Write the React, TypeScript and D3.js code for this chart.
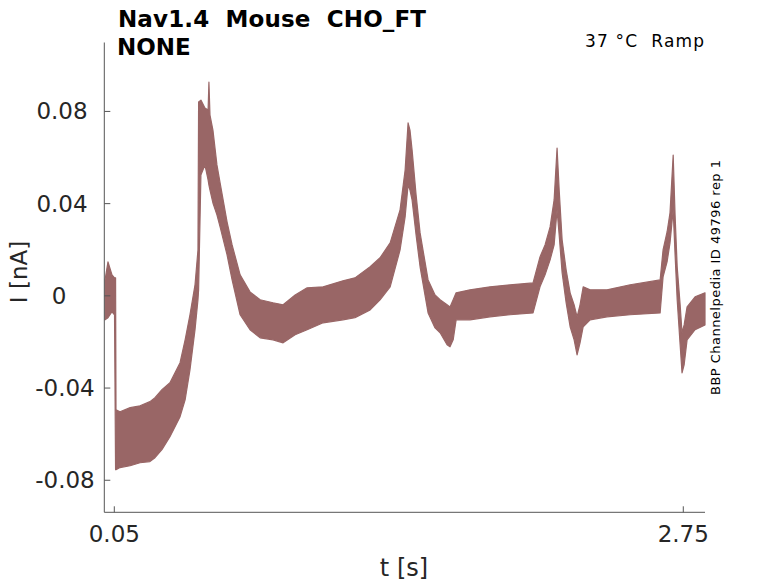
import * as d3 from "d3";
import React from "react";

const WIDTH = 778;
const HEIGHT = 583;
// plot box (inner axes area)
const BOX = { left: 104.3, right: 705, top: 42.5, bottom: 512.3 };

const timeS = [
    0.006, 0.02, 0.039, 0.051, 0.056, 0.058, 0.077, 0.125, 0.172, 0.219,
    0.243, 0.276, 0.314, 0.362, 0.386, 0.409, 0.433, 0.447, 0.45, 0.461,
    0.48, 0.495, 0.499, 0.504, 0.518, 0.537, 0.552, 0.585, 0.609, 0.647,
    0.694, 0.742, 0.803, 0.851, 0.908, 0.965, 1.041, 1.135, 1.192, 1.264,
    1.311, 1.359, 1.406, 1.43, 1.444, 1.453, 1.463, 1.482, 1.501, 1.539,
    1.572, 1.596, 1.629, 1.643, 1.658, 1.672, 1.738, 1.833, 1.928, 2.037,
    2.07, 2.094, 2.118, 2.137, 2.151, 2.161, 2.175, 2.194, 2.213, 2.232,
    2.246, 2.26, 2.275, 2.308, 2.388, 2.498, 2.64, 2.654, 2.673, 2.687,
    2.702, 2.711, 2.721, 2.735, 2.744, 2.754, 2.768, 2.806, 2.853,
];
const upperNA = [
    0.0069, 0.0147, 0.0091, 0.0078, 0.0078, -0.0494, -0.0503, -0.0485, -0.0477, -0.0459,
    -0.0442, -0.0407, -0.0377, -0.029, -0.0191, -0.0082, 0.0048, 0.0199, 0.0841, 0.0849,
    0.0815, 0.0806, 0.0927, 0.0784, 0.0719, 0.0568, 0.049, 0.0321, 0.0221, 0.0091,
    0.0017, -0.0017, -0.003, -0.0039, 0.0004, 0.0035, 0.0039, 0.0065, 0.0078, 0.0126,
    0.0165, 0.023, 0.0373, 0.0546, 0.075, 0.0719, 0.0633, 0.0438, 0.0273, 0.0069,
    0.0004, -0.0017, -0.0039, -0.0048, -0.0017, 0.0013, 0.0026, 0.0039, 0.0048, 0.0056,
    0.0169, 0.0221, 0.0299, 0.0416, 0.0641, 0.0459, 0.0243, 0.0113, 0.0013, -0.0039,
    -0.0091, -0.0039, 0.0039, 0.0026, 0.0026, 0.0048, 0.0069, 0.0199, 0.0277, 0.036,
    0.0611, 0.0351, 0.0126, -0.0039, -0.016, -0.0126, -0.0048, -0.0004, 0.0013,
];
const lowerNA = [
    -0.0104, -0.0095, -0.0069, -0.0082, -0.0754, -0.0754, -0.0745, -0.0737, -0.0724, -0.0719,
    -0.0702, -0.0667, -0.0611, -0.0524, -0.0451, -0.0321, -0.0147, -0.0017, 0.0026, 0.0524,
    0.0568, 0.0503, 0.048, 0.0459, 0.0403, 0.0351, 0.0299, 0.0178, 0.0069, -0.0082,
    -0.0147, -0.0182, -0.0191, -0.0204, -0.0169, -0.0147, -0.0117, -0.0104, -0.0095, -0.0061,
    -0.0017, 0.0039, 0.0199, 0.0342, 0.0481, 0.0459, 0.0416, 0.0264, 0.0126, -0.0074,
    -0.0139, -0.016, -0.0212, -0.0221, -0.0191, -0.0104, -0.0104, -0.0091, -0.0082, -0.0074,
    0.0039, 0.0091, 0.0156, 0.0221, 0.0373, 0.0264, 0.01, -0.003, -0.0134, -0.0191,
    -0.0256, -0.0204, -0.0134, -0.0104, -0.0091, -0.0082, -0.0074, 0.0082, 0.0147, 0.023,
    0.0373, 0.0178, -0.0017, -0.0212, -0.0334, -0.0299, -0.0191, -0.0147, -0.0126,
];

const xTicks = [0.05, 2.75];
const xTickLabels = ["0.05", "2.75"];
const yTicks = [0.08, 0.04, 0, -0.04, -0.08];
const yTickLabels = ["0.08", "0.04", "0", "-0.04", "-0.08"];

const TRACE = "#996666";
const AXIS = "#555555";
const TEXT = "#262626";
const FONT = "DejaVu Sans, sans-serif";

type Sample = { t: number; hi: number; lo: number };

const App: React.FC = () => {
    const samples: Sample[] = timeS.map((t, i) => ({
        t,
        hi: upperNA[i],
        lo: lowerNA[i],
    }));

    const xScale = d3
        .scaleLinear()
        .domain([0.0025, 2.853])
        .range([BOX.left, BOX.right]);
    const yScale = d3
        .scaleLinear()
        .domain([-0.0939, 0.1099])
        .range([BOX.bottom, BOX.top]);

    const areaBuilder = d3
        .area<Sample>()
        .x((d) => xScale(d.t))
        .y0((d) => yScale(d.lo))
        .y1((d) => yScale(d.hi));
    const bandPath = areaBuilder(samples) || "";

    return (
        <svg
            width={WIDTH}
            height={HEIGHT}
            style={{ position: "absolute", left: 0, top: 0, background: "#fff" }}
            fontFamily={FONT}
        >
            <path
                d={bandPath}
                fill={TRACE}
                stroke={TRACE}
                strokeWidth={1.2}
                strokeLinejoin="round"
            />

            {/* axes */}
            <line x1={BOX.left} x2={BOX.left} y1={BOX.top} y2={BOX.bottom} stroke={AXIS} />
            <line x1={BOX.left} x2={BOX.right} y1={BOX.bottom} y2={BOX.bottom} stroke={AXIS} />
            {yTicks.map((v, i) => (
                <g key={"y" + i}>
                    <line
                        x1={BOX.left}
                        x2={BOX.left + 6}
                        y1={yScale(v)}
                        y2={yScale(v)}
                        stroke={AXIS}
                    />
                    <text
                        x={v < 0 ? 65 : v === 0 ? 59 : 62}
                        y={yScale(v) + 8}
                        textAnchor="middle"
                        fontSize={23}
                        fill={TEXT}
                    >
                        {yTickLabels[i]}
                    </text>
                </g>
            ))}
            {xTicks.map((v, i) => (
                <g key={"x" + i}>
                    <line
                        x1={xScale(v)}
                        x2={xScale(v)}
                        y1={BOX.bottom}
                        y2={BOX.bottom - 6}
                        stroke={AXIS}
                    />
                    <text
                        x={xScale(v)}
                        y={542}
                        textAnchor="middle"
                        fontSize={23}
                        fill={TEXT}
                    >
                        {xTickLabels[i]}
                    </text>
                </g>
            ))}

            {/* axis labels */}
            <text x={404} y={576} textAnchor="middle" fontSize={24} fill={TEXT}>
                t [s]
            </text>
            <text
                transform="translate(27,272) rotate(-90)"
                textAnchor="middle"
                fontSize={23}
                fill={TEXT}
            >
                I [nA]
            </text>

            {/* header */}
            <text
                x={118}
                y={27}
                fontSize={23}
                fontWeight="bold"
                fill="#000"
                textLength={308}
                lengthAdjust="spacing"
                style={{ whiteSpace: "pre" }}
            >
                {"Nav1.4  Mouse  CHO_FT"}
            </text>
            <text x={117} y={55} fontSize={23} fontWeight="bold" fill="#000">
                NONE
            </text>
            <text
                x={585}
                y={47}
                fontSize={17}
                fill="#000"
                textLength={119}
                lengthAdjust="spacing"
                style={{ whiteSpace: "pre" }}
            >
                {"37 °C  Ramp"}
            </text>
            <text
                transform="translate(720,395) rotate(-90)"
                fontSize={13}
                fill="#000"
                textLength={235}
                lengthAdjust="spacing"
            >
                BBP Channelpedia ID 49796 rep 1
            </text>
        </svg>
    );
};

export default App;
